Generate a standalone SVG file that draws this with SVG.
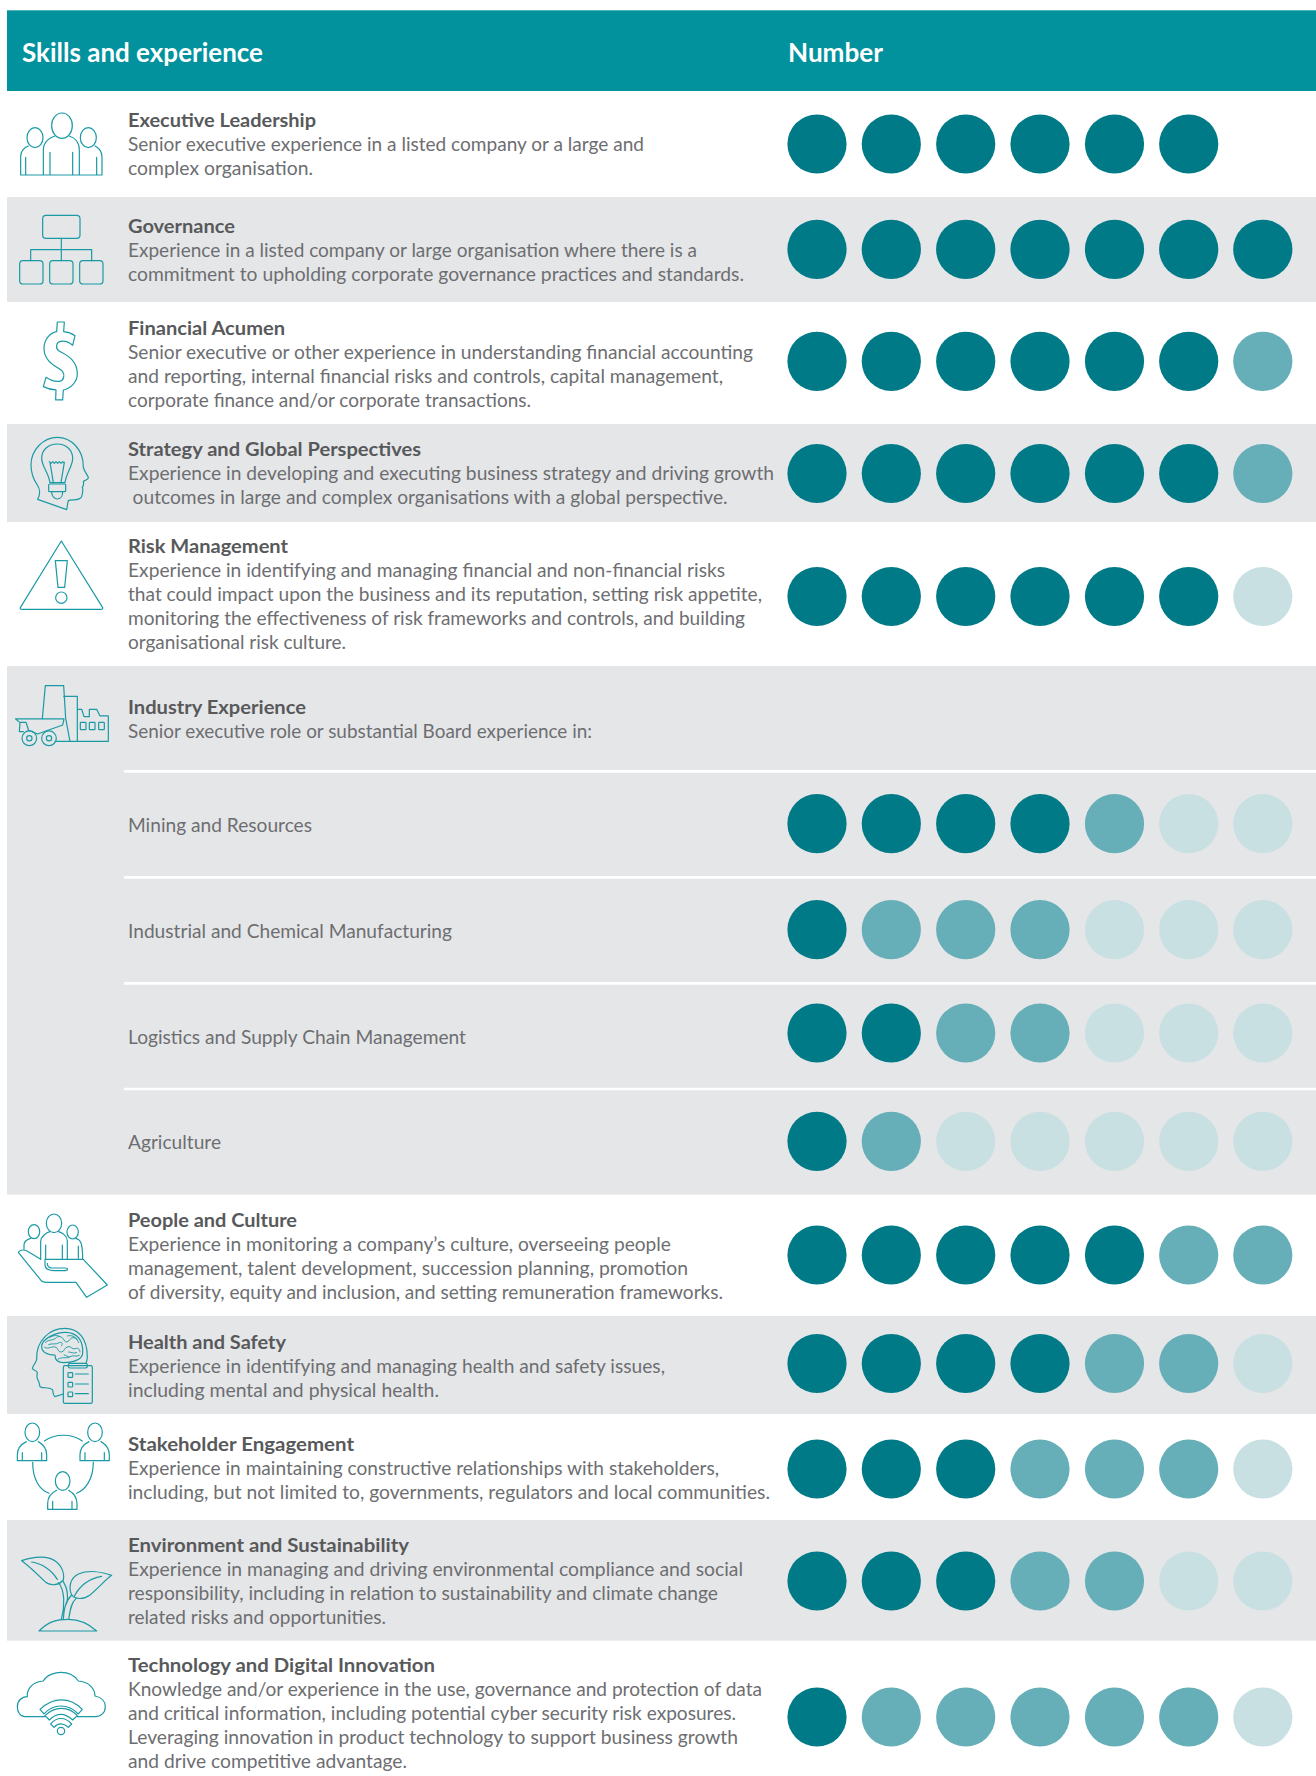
<svg xmlns="http://www.w3.org/2000/svg" xmlns:xlink="http://www.w3.org/1999/xlink" width="1316" height="1776" viewBox="0 0 1316 1776">
<style>
text{font-family:"Lato","Open Sans","Liberation Sans",sans-serif;fill:#6d6e71;font-size:19px}
.h{font-weight:700;fill:#58595b}
.t{font-size:26px;font-weight:700;fill:#fff}
.g{fill:#e5e6e8}
.d{fill:#007a87}.m{fill:#66aeb8}.l{fill:#c9e0e3}
.i{fill:none;stroke:#1b9aa5;stroke-width:3.6;stroke-linejoin:round;stroke-linecap:round}
.sep{stroke:#fff;stroke-width:2.700}
</style>
<defs>
<g id="person"><ellipse cx="0" cy="27" rx="22" ry="28"/><path d="M-45 112H43V95C43 75 30 62 18 55M-45 112V95C-45 75-32 62-18 55M-30 112V88M28 112V88"/></g>
</defs>
<rect width="1316" height="1776" fill="#fff"/>
<g id="backgrounds">
<rect x="7" y="10" width="1309" height="81" fill="#01929e"/>
<rect x="7" y="10" width="1309" height="1" fill="#4fb3bc"/>
<rect class="g" x="7" y="197" width="1309" height="105"/>
<rect class="g" x="7" y="424" width="1309" height="98"/>
<rect class="g" x="7" y="666" width="1309" height="528.700"/>
<rect class="g" x="7" y="1316" width="1309" height="98"/>
<rect class="g" x="7" y="1520" width="1309" height="120.700"/>
<path class="sep" d="M124 771.300H1316M124 877.300H1316M124 983.300H1316M124 1089H1316"/>
</g>
<g id="header">
<text class="t" x="22" y="61.500" textLength="241" lengthAdjust="spacingAndGlyphs">Skills and experience</text>
<text class="t" x="788" y="61.500" textLength="95" lengthAdjust="spacingAndGlyphs">Number</text>
</g>

<g id="executive-leadership">
<text class="h" x="128" y="127" textLength="188" lengthAdjust="spacingAndGlyphs">Executive Leadership</text>
<text x="128" y="151" textLength="516" lengthAdjust="spacingAndGlyphs">Senior executive experience in a listed company or a large and</text>
<text x="128" y="175" textLength="185" lengthAdjust="spacingAndGlyphs">complex organisation.</text>
<g class="i" transform="translate(0,100) scale(.3333)">
<ellipse cx="186" cy="77" rx="31" ry="38"/><ellipse cx="105" cy="113" rx="24" ry="30"/><ellipse cx="265" cy="113" rx="24" ry="30"/>
<path d="M62 225H306V170C306 155 295 142 285 138M62 225V170C62 155 72 142 85 138M130 225V150C130 125 150 112 165 108M238 225V150C238 125 222 112 207 108M77 225V172M150 225V157M218 225V157M290 225V172"/>
</g>
<g><circle class="d" cx="817" cy="144" r="29.600"/><circle class="d" cx="891.300" cy="144" r="29.600"/><circle class="d" cx="965.700" cy="144" r="29.600"/><circle class="d" cx="1040" cy="144" r="29.600"/><circle class="d" cx="1114.500" cy="144" r="29.600"/><circle class="d" cx="1188.700" cy="144" r="29.600"/></g>
</g>

<g id="governance">
<text class="h" x="128" y="233" textLength="107" lengthAdjust="spacingAndGlyphs">Governance</text>
<text x="128" y="257" textLength="569" lengthAdjust="spacingAndGlyphs">Experience in a listed company or large organisation where there is a</text>
<text x="128" y="281" textLength="616" lengthAdjust="spacingAndGlyphs">commitment to upholding corporate governance practices and standards.</text>
<g class="i" transform="translate(0,100) scale(.3333)">
<rect x="128" y="346" width="112" height="69" rx="10"/><path d="M184 415V482M92 482V449H275V482"/>
<rect x="59" y="482" width="70" height="70" rx="10"/><rect x="149" y="482" width="70" height="70" rx="10"/><rect x="239" y="482" width="70" height="70" rx="10"/>
</g>
<g><circle class="d" cx="817" cy="249.300" r="29.600"/><circle class="d" cx="891.300" cy="249.300" r="29.600"/><circle class="d" cx="965.700" cy="249.300" r="29.600"/><circle class="d" cx="1040" cy="249.300" r="29.600"/><circle class="d" cx="1114.500" cy="249.300" r="29.600"/><circle class="d" cx="1188.700" cy="249.300" r="29.600"/><circle class="d" cx="1262.800" cy="249.300" r="29.600"/></g>
</g>

<g id="financial-acumen">
<text class="h" x="128" y="335" textLength="157" lengthAdjust="spacingAndGlyphs">Financial Acumen</text>
<text x="128" y="359" textLength="625" lengthAdjust="spacingAndGlyphs">Senior executive or other experience in understanding financial accounting</text>
<text x="128" y="383" textLength="595" lengthAdjust="spacingAndGlyphs">and reporting, internal financial risks and controls, capital management,</text>
<text x="128" y="407" textLength="403" lengthAdjust="spacingAndGlyphs">corporate finance and/or corporate transactions.</text>
<g class="i" transform="translate(0,100) scale(.3333)">
<path d="M172 666H193L191 695C205 696 215 700 225 707L218 736C208 727 195 722 182 724C168 726 166 745 176 752C190 762 232 775 232 822C232 845 212 866 190 870L188 900H167L168 870C152 869 140 865 130 860L138 832C150 840 165 846 178 844C192 842 195 825 188 815C178 802 132 790 132 745C132 720 150 698 170 695Z"/>
</g>
<g><circle class="d" cx="817" cy="361.300" r="29.600"/><circle class="d" cx="891.300" cy="361.300" r="29.600"/><circle class="d" cx="965.700" cy="361.300" r="29.600"/><circle class="d" cx="1040" cy="361.300" r="29.600"/><circle class="d" cx="1114.500" cy="361.300" r="29.600"/><circle class="d" cx="1188.700" cy="361.300" r="29.600"/><circle class="m" cx="1262.800" cy="361.300" r="29.600"/></g>
</g>

<g id="strategy">
<text class="h" x="128" y="456" textLength="293" lengthAdjust="spacingAndGlyphs">Strategy and Global Perspectives</text>
<text x="128" y="480" textLength="646" lengthAdjust="spacingAndGlyphs">Experience in developing and executing business strategy and driving growth</text>
<text x="132.600" y="504" textLength="595" lengthAdjust="spacingAndGlyphs">outcomes in large and complex organisations with a global perspective.</text>
<g class="i" transform="translate(0,430) scale(.3333)">
<path d="M113 208C120 195 122 180 112 165C98 145 93 125 93 105C93 60 130 22 172 22C215 22 250 60 250 110C250 118 258 128 265 142C266 148 256 152 250 154C252 162 250 168 247 172C250 180 248 190 245 200C240 212 215 208 205 212C202 222 202 232 200 239Z"/>
<path d="M150 158C145 125 125 110 125 85C125 60 145 42 172 42C198 42 218 60 218 85C218 110 200 125 195 158Z"/>
<path d="M148 95l5 5 5-5 5 5 5-5 5 5 5-5 5 5 5-5 5 5M150 97L160 158M193 97L183 158"/>
<rect x="146" y="162" width="51" height="23" rx="3"/><path d="M155 185C155 200 165 207 172 207C180 207 188 200 188 185"/>
</g>
<g><circle class="d" cx="817" cy="473.500" r="29.600"/><circle class="d" cx="891.300" cy="473.500" r="29.600"/><circle class="d" cx="965.700" cy="473.500" r="29.600"/><circle class="d" cx="1040" cy="473.500" r="29.600"/><circle class="d" cx="1114.500" cy="473.500" r="29.600"/><circle class="d" cx="1188.700" cy="473.500" r="29.600"/><circle class="m" cx="1262.800" cy="473.500" r="29.600"/></g>
</g>

<g id="risk-management">
<text class="h" x="128" y="553" textLength="160" lengthAdjust="spacingAndGlyphs">Risk Management</text>
<text x="128" y="577" textLength="597" lengthAdjust="spacingAndGlyphs">Experience in identifying and managing financial and non-financial risks</text>
<text x="128" y="601" textLength="634" lengthAdjust="spacingAndGlyphs">that could impact upon the business and its reputation, setting risk appetite,</text>
<text x="128" y="625" textLength="617" lengthAdjust="spacingAndGlyphs">monitoring the effectiveness of risk frameworks and controls, and building</text>
<text x="128" y="649" textLength="218" lengthAdjust="spacingAndGlyphs">organisational risk culture.</text>
<g class="i" transform="translate(0,430) scale(.3333)">
<path d="M184 333L308 533Q309 538 303 538H65Q59 538 61 533Z"/><path d="M166 392H202L194 472H174Z"/><circle cx="184" cy="503" r="17"/>
</g>
<g><circle class="d" cx="817" cy="596.500" r="29.600"/><circle class="d" cx="891.300" cy="596.500" r="29.600"/><circle class="d" cx="965.700" cy="596.500" r="29.600"/><circle class="d" cx="1040" cy="596.500" r="29.600"/><circle class="d" cx="1114.500" cy="596.500" r="29.600"/><circle class="d" cx="1188.700" cy="596.500" r="29.600"/><circle class="l" cx="1262.800" cy="596.500" r="29.600"/></g>
</g>

<g id="industry-experience">
<text class="h" x="128" y="714" textLength="178" lengthAdjust="spacingAndGlyphs">Industry Experience</text>
<text x="128" y="738" textLength="464" lengthAdjust="spacingAndGlyphs">Senior executive role or substantial Board experience in:</text>
<g class="i" transform="translate(0,430) scale(.3333)">
<path d="M127 866L136 767H191L197 865L210 934M191 799H232V934M232 838H245L252 860H268V838H290L300 858H325V934H165"/>
<rect x="241" y="877" width="17" height="22" rx="2"/><rect x="268" y="877" width="17" height="22" rx="2"/><rect x="296" y="877" width="17" height="22" rx="2"/>
<path d="M47 867H192L188 885L113 912L84 900M47 867L60 878L58 905H70M62 877H78L85 898"/>
<circle cx="88" cy="925" r="22"/><circle cx="88" cy="925" r="8"/><circle cx="147" cy="925" r="22"/><circle cx="147" cy="925" r="8"/>
</g>
</g>

<g id="mining">
<text x="128" y="832" textLength="184" lengthAdjust="spacingAndGlyphs">Mining and Resources</text>
<circle class="d" cx="817" cy="823.700" r="29.600"/><circle class="d" cx="891.300" cy="823.700" r="29.600"/><circle class="d" cx="965.700" cy="823.700" r="29.600"/><circle class="d" cx="1040" cy="823.700" r="29.600"/><circle class="m" cx="1114.500" cy="823.700" r="29.600"/><circle class="l" cx="1188.700" cy="823.700" r="29.600"/><circle class="l" cx="1262.800" cy="823.700" r="29.600"/>
</g>
<g id="manufacturing">
<text x="128" y="938" textLength="324" lengthAdjust="spacingAndGlyphs">Industrial and Chemical Manufacturing</text>
<circle class="d" cx="817" cy="929.700" r="29.600"/><circle class="m" cx="891.300" cy="929.700" r="29.600"/><circle class="m" cx="965.700" cy="929.700" r="29.600"/><circle class="m" cx="1040" cy="929.700" r="29.600"/><circle class="l" cx="1114.500" cy="929.700" r="29.600"/><circle class="l" cx="1188.700" cy="929.700" r="29.600"/><circle class="l" cx="1262.800" cy="929.700" r="29.600"/>
</g>
<g id="logistics">
<text x="128" y="1044" textLength="338" lengthAdjust="spacingAndGlyphs">Logistics and Supply Chain Management</text>
<circle class="d" cx="817" cy="1033" r="29.600"/><circle class="d" cx="891.300" cy="1033" r="29.600"/><circle class="m" cx="965.700" cy="1033" r="29.600"/><circle class="m" cx="1040" cy="1033" r="29.600"/><circle class="l" cx="1114.500" cy="1033" r="29.600"/><circle class="l" cx="1188.700" cy="1033" r="29.600"/><circle class="l" cx="1262.800" cy="1033" r="29.600"/>
</g>
<g id="agriculture">
<text x="128" y="1149" textLength="93" lengthAdjust="spacingAndGlyphs">Agriculture</text>
<circle class="d" cx="817" cy="1141.300" r="29.600"/><circle class="m" cx="891.300" cy="1141.300" r="29.600"/><circle class="l" cx="965.700" cy="1141.300" r="29.600"/><circle class="l" cx="1040" cy="1141.300" r="29.600"/><circle class="l" cx="1114.500" cy="1141.300" r="29.600"/><circle class="l" cx="1188.700" cy="1141.300" r="29.600"/><circle class="l" cx="1262.800" cy="1141.300" r="29.600"/>
</g>

<g id="people-culture">
<text class="h" x="128" y="1227" textLength="169" lengthAdjust="spacingAndGlyphs">People and Culture</text>
<text x="128" y="1251" textLength="543" lengthAdjust="spacingAndGlyphs">Experience in monitoring a company’s culture, overseeing people</text>
<text x="128" y="1275" textLength="560" lengthAdjust="spacingAndGlyphs">management, talent development, succession planning, promotion</text>
<text x="128" y="1299" textLength="595" lengthAdjust="spacingAndGlyphs">of diversity, equity and inclusion, and setting remuneration frameworks.</text>
<g class="i" transform="translate(0,1200) scale(.3333)">
<ellipse cx="162" cy="70" rx="23" ry="28"/><ellipse cx="102" cy="95" rx="17" ry="21"/><ellipse cx="218" cy="96" rx="17" ry="21"/>
<path d="M122 178V125C122 110 140 97 150 95M202 178V122C202 108 185 97 175 95M72 148V135C72 125 82 118 92 115M228 115C240 118 248 125 248 178M137 178V135M187 178V135M235 175V138"/>
<path d="M55 157C60 148 75 148 85 155L122 178M55 157L122 240C126 246 132 247 138 247H228L260 292L322 255L250 178H135V195C135 208 150 212 165 212H195C205 212 205 204 195 204H155C145 204 142 195 142 190"/>
</g>
<circle class="d" cx="817" cy="1255" r="29.600"/><circle class="d" cx="891.300" cy="1255" r="29.600"/><circle class="d" cx="965.700" cy="1255" r="29.600"/><circle class="d" cx="1040" cy="1255" r="29.600"/><circle class="d" cx="1114.500" cy="1255" r="29.600"/><circle class="m" cx="1188.700" cy="1255" r="29.600"/><circle class="m" cx="1262.800" cy="1255" r="29.600"/>
</g>

<g id="health-safety">
<text class="h" x="128" y="1349" textLength="158" lengthAdjust="spacingAndGlyphs">Health and Safety</text>
<text x="128" y="1373" textLength="537" lengthAdjust="spacingAndGlyphs">Experience in identifying and managing health and safety issues,</text>
<text x="128" y="1397" textLength="311" lengthAdjust="spacingAndGlyphs">including mental and physical health.</text>
<g class="i" transform="translate(0,1200) scale(.3333)">
<path d="M110 478C108 420 150 385 195 385C235 385 262 415 262 470C262 478 260 485 258 490"/>
<path d="M110 478C110 485 97 500 97 505C97 510 112 512 112 518C112 525 108 530 113 538C118 545 118 552 120 560C124 566 150 560 158 570C160 580 158 585 165 590L190 582"/>
<rect x="190" y="497" width="87" height="113" rx="5"/><rect x="205" y="490" width="57" height="14" rx="5"/>
<rect x="204" y="518" width="14" height="14" rx="2"/><rect x="204" y="547" width="14" height="14" rx="2"/><rect x="204" y="576" width="14" height="14" rx="2"/>
<path d="M226 522H265M226 552H265M226 581H265"/>
<path d="M125 440C125 415 170 397 195 397C235 397 250 425 248 460C245 480 225 487 190 488C170 488 165 475 165 465C140 465 125 455 125 440Z"/>
<path stroke-width="2.800" d="M136 428C146 416 160 424 170 412C178 406 188 412 192 420C196 430 206 426 212 416C220 408 232 416 236 428M134 442C146 450 156 436 168 442C176 446 172 456 184 456C194 456 192 442 204 440C214 438 216 450 226 446C234 442 240 448 240 456M146 434C156 428 166 436 178 428C186 424 190 432 184 438M174 478C186 468 198 478 210 470C220 464 228 472 238 466M150 412C160 406 172 404 180 410M202 408C214 404 226 410 232 418M206 456C214 456 220 462 230 458M192 464C198 470 204 466 208 472"/>
</g>
<circle class="d" cx="817" cy="1363.500" r="29.600"/><circle class="d" cx="891.300" cy="1363.500" r="29.600"/><circle class="d" cx="965.700" cy="1363.500" r="29.600"/><circle class="d" cx="1040" cy="1363.500" r="29.600"/><circle class="m" cx="1114.500" cy="1363.500" r="29.600"/><circle class="m" cx="1188.700" cy="1363.500" r="29.600"/><circle class="l" cx="1262.800" cy="1363.500" r="29.600"/>
</g>

<g id="stakeholder-engagement">
<text class="h" x="128" y="1451" textLength="226" lengthAdjust="spacingAndGlyphs">Stakeholder Engagement</text>
<text x="128" y="1475" textLength="591" lengthAdjust="spacingAndGlyphs">Experience in maintaining constructive relationships with stakeholders,</text>
<text x="128" y="1499" textLength="642" lengthAdjust="spacingAndGlyphs">including, but not limited to, governments, regulators and local communities.</text>
<g class="i" transform="translate(0,1200) scale(.3333)">
<use xlink:href="#person" href="#person" x="97" y="670"/><use xlink:href="#person" href="#person" x="285" y="670"/><use xlink:href="#person" href="#person" x="188" y="816"/>
<path d="M133 723C165 700 215 700 247 723M98 787C98 840 120 870 147 880M280 787C280 840 255 870 230 880"/>
</g>
<circle class="d" cx="817" cy="1469" r="29.600"/><circle class="d" cx="891.300" cy="1469" r="29.600"/><circle class="d" cx="965.700" cy="1469" r="29.600"/><circle class="m" cx="1040" cy="1469" r="29.600"/><circle class="m" cx="1114.500" cy="1469" r="29.600"/><circle class="m" cx="1188.700" cy="1469" r="29.600"/><circle class="l" cx="1262.800" cy="1469" r="29.600"/>
</g>

<g id="environment">
<text class="h" x="128" y="1552" textLength="281" lengthAdjust="spacingAndGlyphs">Environment and Sustainability</text>
<text x="128" y="1576" textLength="615" lengthAdjust="spacingAndGlyphs">Experience in managing and driving environmental compliance and social</text>
<text x="128" y="1600" textLength="590" lengthAdjust="spacingAndGlyphs">responsibility, including in relation to sustainability and climate change</text>
<text x="128" y="1624" textLength="258" lengthAdjust="spacingAndGlyphs">related risks and opportunities.</text>
<g class="i" transform="translate(0,1500) scale(.3333)">
<path d="M117 393C145 365 170 358 205 358C240 358 265 370 290 393Z"/>
<path d="M65 182C90 172 125 168 150 175C180 185 195 215 190 240C175 258 150 258 135 245C115 225 90 200 65 182Z"/><path d="M95 186C125 190 155 210 172 238"/>
<path d="M335 226C315 240 295 265 270 285C250 300 225 298 215 285C205 262 210 235 235 222C265 210 305 215 335 226Z"/><path d="M305 229C270 235 240 255 222 290"/>
<path d="M175 248C195 270 195 320 184 358M190 245C205 270 205 290 200 310M215 285C195 305 192 330 190 358M228 296C212 310 210 335 206 358"/>
</g>
<circle class="d" cx="817" cy="1581" r="29.600"/><circle class="d" cx="891.300" cy="1581" r="29.600"/><circle class="d" cx="965.700" cy="1581" r="29.600"/><circle class="m" cx="1040" cy="1581" r="29.600"/><circle class="m" cx="1114.500" cy="1581" r="29.600"/><circle class="l" cx="1188.700" cy="1581" r="29.600"/><circle class="l" cx="1262.800" cy="1581" r="29.600"/>
</g>

<g id="technology">
<text class="h" x="128" y="1672" textLength="307" lengthAdjust="spacingAndGlyphs">Technology and Digital Innovation</text>
<text x="128" y="1696" textLength="634" lengthAdjust="spacingAndGlyphs">Knowledge and/or experience in the use, governance and protection of data</text>
<text x="128" y="1720" textLength="608" lengthAdjust="spacingAndGlyphs">and critical information, including potential cyber security risk exposures.</text>
<text x="128" y="1744" textLength="610" lengthAdjust="spacingAndGlyphs">Leveraging innovation in product technology to support business growth</text>
<text x="128" y="1768" textLength="279" lengthAdjust="spacingAndGlyphs">and drive competitive advantage.</text>
<g class="i" transform="translate(0,1500) scale(.3333)">
<path d="M135 650H75C60 650 52 635 52 620C52 603 65 590 82 590C80 565 100 545 130 543C140 525 165 517 183 517C205 517 225 528 235 543C265 545 285 565 285 588C305 592 316 605 316 620C316 638 303 650 285 650H232"/>
<path d="M120 628C160 590 210 590 247 628L235 642C205 610 160 610 132 642Z"/><path d="M135 647C165 618 205 618 232 647L218 660C195 638 170 638 148 660Z"/><path d="M152 672C170 650 195 650 215 672L205 682C190 668 175 668 162 682Z"/><circle cx="183" cy="693" r="11"/>
</g>
<circle class="d" cx="817" cy="1717" r="29.600"/><circle class="m" cx="891.300" cy="1717" r="29.600"/><circle class="m" cx="965.700" cy="1717" r="29.600"/><circle class="m" cx="1040" cy="1717" r="29.600"/><circle class="m" cx="1114.500" cy="1717" r="29.600"/><circle class="m" cx="1188.700" cy="1717" r="29.600"/><circle class="l" cx="1262.800" cy="1717" r="29.600"/>
</g>
</svg>
